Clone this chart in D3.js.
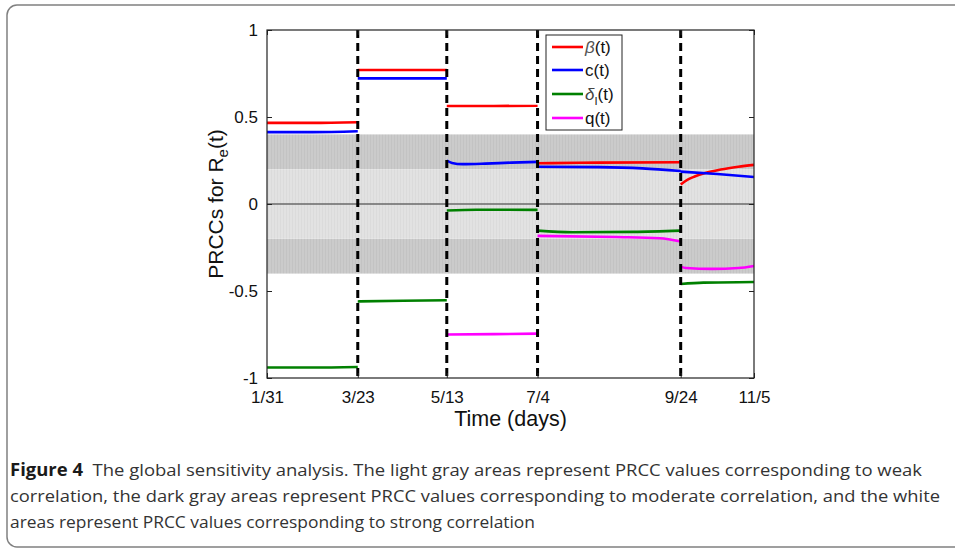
<!DOCTYPE html>
<html>
<head>
<meta charset="utf-8">
<script src="https://cdn.jsdelivr.net/npm/d3@7/dist/d3.min.js"></script>
<style>
  body { margin: 0; background: #fff; }
  svg { display: block; }
</style>
</head>
<body>
<svg id="fig" width="955" height="548"></svg>
<script>
// Time axis: days since 1/31 (2020), with the dates of the intervention switches
const tickDays = [0, 52, 103, 155, 237, 279];
const tickLabels = ["1/31", "3/23", "5/13", "7/4", "9/24", "11/5"];
const switchDays = [52, 103, 155, 237];

const yTicks = [-1, -0.5, 0, 0.5, 1];
const yTickLabels = ["-1", "-0.5", "0", "0.5", "1"];

// PRCC significance bands
const moderateBands = [[0.2, 0.4], [-0.4, -0.2]];
const weakBands = [[-0.2, 0.2]];

// PRCC curves as [day, value]; null separates the intervals
const betaPts = [
  [0, 0.466], [26, 0.466], [52, 0.47], null,
  [52, 0.77], [78, 0.77], [103, 0.77], null,
  [103, 0.563], [130, 0.563], [155, 0.565], null,
  [155, 0.234], [190, 0.238], [237, 0.24], null,
  [237, 0.112], [241, 0.14], [245, 0.158], [251, 0.178], [260, 0.198], [270, 0.214], [279, 0.225]
];
const cPts = [
  [0, 0.413], [26, 0.413], [52, 0.418], null,
  [52, 0.722], [78, 0.722], [103, 0.722], null,
  [103, 0.25], [106, 0.236], [112, 0.229], [125, 0.232], [140, 0.238], [155, 0.242], null,
  [155, 0.214], [190, 0.212], [215, 0.205], [237, 0.19], null,
  [237, 0.186], [258, 0.172], [279, 0.155]
];
const deltaPts = [
  [0, -0.94], [26, -0.94], [52, -0.937], null,
  [52, -0.56], [78, -0.556], [103, -0.553], null,
  [103, -0.037], [120, -0.033], [155, -0.034], null,
  [155, -0.153], [175, -0.162], [210, -0.16], [237, -0.153], null,
  [237, -0.46], [250, -0.452], [279, -0.448]
];
const qPts = [
  [103, -0.75], [130, -0.748], [155, -0.745], null,
  [155, -0.183], [200, -0.19], [225, -0.197], [237, -0.215], null,
  [237, -0.36], [240, -0.368], [255, -0.373], [270, -0.368], [279, -0.356]
];

const seriesNames = ["beta", "c", "delta", "q"];
const seriesColors = ["#ff0000", "#0000ff", "#008000", "#ff00ff"];
const seriesPoints = [betaPts, cPts, deltaPts, qPts];

const captionLines = [
  ["Figure 4", "  The global sensitivity analysis. The light gray areas represent PRCC values corresponding to weak"],
  ["", "correlation, the dark gray areas represent PRCC values corresponding to moderate correlation, and the white"],
  ["", "areas represent PRCC values corresponding to strong correlation"]
];

const svg = d3.select("#fig");
const plot = { left: 267, right: 754, top: 30, bottom: 378 };

const x = d3.scaleLinear().domain([0, 279]).range([plot.left, plot.right]);
const y = d3.scaleLinear().domain([-1, 1]).range([plot.bottom, plot.top]);

// Outer figure frame with rounded corners
svg.append("rect")
  .attr("x", 7).attr("y", 5).attr("width", 1000).attr("height", 542)
  .attr("rx", 10).attr("ry", 10)
  .attr("fill", "none").attr("stroke", "#808080").attr("stroke-width", 1.5);

// Striped fills for the bands
const defs = svg.append("defs");
function stripes(id, base, line) {
  const p = defs.append("pattern").attr("id", id)
    .attr("patternUnits", "userSpaceOnUse").attr("width", 3).attr("height", 10);
  p.append("rect").attr("width", 3).attr("height", 10).attr("fill", base);
  p.append("rect").attr("x", 1).attr("width", 1).attr("height", 10).attr("fill", line);
}
stripes("modPat", "#cbcbcb", "#c3c3c3");
stripes("weakPat", "#e2e2e2", "#dbdbdb");

const g = svg.append("g");

g.selectAll("rect.mod").data(moderateBands).join("rect").attr("class", "mod")
  .attr("x", plot.left).attr("width", plot.right - plot.left)
  .attr("y", d => y(d[1])).attr("height", d => y(d[0]) - y(d[1]))
  .attr("fill", "url(#modPat)");
g.selectAll("rect.weak").data(weakBands).join("rect").attr("class", "weak")
  .attr("x", plot.left).attr("width", plot.right - plot.left)
  .attr("y", d => y(d[1])).attr("height", d => y(d[0]) - y(d[1]))
  .attr("fill", "url(#weakPat)");

// Zero reference line
g.append("line")
  .attr("x1", plot.left).attr("x2", plot.right)
  .attr("y1", y(0)).attr("y2", y(0))
  .attr("stroke", "#6a6a6a").attr("stroke-width", 1.6);

// PRCC curves
const line = d3.line()
  .defined(d => d !== null)
  .x(d => x(d[0])).y(d => y(d[1]))
  .curve(d3.curveMonotoneX);

g.selectAll("path.series").data(seriesPoints).join("path").attr("class", "series")
  .attr("d", d => line(d))
  .attr("fill", "none")
  .attr("stroke", (d, i) => seriesColors[i])
  .attr("stroke-width", 2.6);

// Intervention switch lines
g.selectAll("line.switch").data(switchDays).join("line").attr("class", "switch")
  .attr("x1", d => x(d)).attr("x2", d => x(d))
  .attr("y1", plot.top).attr("y2", plot.bottom)
  .attr("stroke", "#000").attr("stroke-width", 3)
  .attr("stroke-dasharray", "8,5");

// Axes
const font = "'Liberation Sans', Arial, sans-serif";
const xAxis = d3.axisBottom(x).tickValues(tickDays)
  .tickFormat((d, i) => tickLabels[i]).tickSizeInner(-5).tickSizeOuter(0).tickPadding(13);
const yAxis = d3.axisLeft(y).tickValues(yTicks)
  .tickFormat((d, i) => yTickLabels[i]).tickSizeInner(-5).tickSizeOuter(0).tickPadding(9);

const gx = svg.append("g").attr("transform", `translate(0,${plot.bottom})`).call(xAxis);
const gy = svg.append("g").attr("transform", `translate(${plot.left},0)`).call(yAxis);
svg.append("g").attr("transform", `translate(0,${plot.top})`)
  .call(d3.axisTop(x).tickValues(tickDays).tickFormat("").tickSizeInner(-5).tickSizeOuter(0));
svg.append("g").attr("transform", `translate(${plot.right},0)`)
  .call(d3.axisRight(y).tickValues(yTicks).tickFormat("").tickSizeInner(-5).tickSizeOuter(0));

svg.selectAll(".domain").remove();
svg.selectAll(".tick line").attr("stroke", "#222").attr("stroke-width", 1);
[gx, gy].forEach(a => a.selectAll("text")
  .attr("font-family", font).attr("font-size", 17).attr("fill", "#111"));

// Axes box
svg.append("rect")
  .attr("x", plot.left).attr("y", plot.top)
  .attr("width", plot.right - plot.left).attr("height", plot.bottom - plot.top)
  .attr("fill", "none").attr("stroke", "#222").attr("stroke-width", 1.2);

// Axis titles
svg.append("text")
  .attr("x", (plot.left + plot.right) / 2).attr("y", 426)
  .attr("text-anchor", "middle")
  .attr("font-family", font).attr("font-size", 21.5).attr("fill", "#111")
  .text("Time (days)");

const yTitle = svg.append("text")
  .attr("transform", `translate(223,${y(0)}) rotate(-90)`)
  .attr("text-anchor", "middle")
  .attr("font-family", font).attr("font-size", 21).attr("fill", "#111");
yTitle.append("tspan").text("PRCCs for R");
yTitle.append("tspan").attr("font-size", 15).attr("dy", 5).text("e");
yTitle.append("tspan").attr("dy", -5).text("(t)");

// Legend
const legend = svg.append("g");
legend.append("rect")
  .attr("x", 546).attr("y", 35).attr("width", 76).attr("height", 95)
  .attr("fill", "#fff").attr("stroke", "#222").attr("stroke-width", 1);
const legendY = [47, 70, 94, 118];
seriesNames.forEach((name, i) => {
  legend.append("line")
    .attr("x1", 552).attr("x2", 583).attr("y1", legendY[i]).attr("y2", legendY[i])
    .attr("stroke", seriesColors[i]).attr("stroke-width", 2.6);
  const t = legend.append("text")
    .attr("x", 585).attr("y", legendY[i] + 6)
    .attr("font-family", font).attr("font-size", 17).attr("fill", "#111");
  if (name === "beta") {
    t.append("tspan").attr("font-style", "italic").attr("fill", "#555").text("β");
    t.append("tspan").text("(t)");
  } else if (name === "c") {
    t.text("c(t)");
  } else if (name === "delta") {
    t.append("tspan").attr("font-style", "italic").attr("fill", "#444").text("δ");
    t.append("tspan").attr("font-size", 11).attr("dy", 5).text("I");
    t.append("tspan").attr("dy", -5).text("(t)");
  } else {
    t.text("q(t)");
  }
});

// Caption
const capFont = "'Open Sans', 'Noto Sans', sans-serif";
const capBase = [476, 502, 528];
const capWidth = [912, 930, 525];
captionLines.forEach((ln, i) => {
  const t = svg.append("text")
    .attr("x", 10).attr("y", capBase[i])
    .attr("font-family", capFont).attr("font-size", 17).attr("fill", "#333")
    .attr("textLength", capWidth[i]).attr("lengthAdjust", "spacingAndGlyphs")
    .attr("xml:space", "preserve");
  if (ln[0]) t.append("tspan").attr("font-weight", "bold").attr("fill", "#1a1a1a").text(ln[0]);
  t.append("tspan").text(ln[1]);
});
</script>
</body>
</html>
